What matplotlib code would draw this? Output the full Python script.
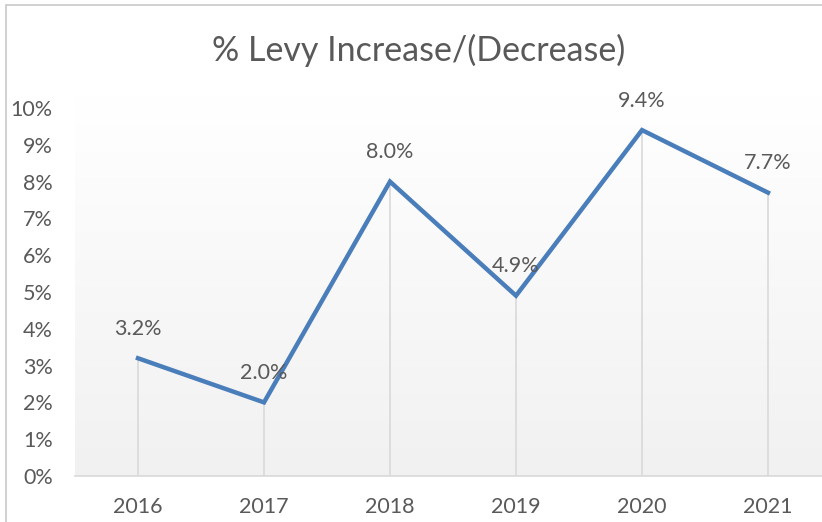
import matplotlib
matplotlib.use("Agg")
import matplotlib.pyplot as plt
import numpy as np
from matplotlib.ticker import FuncFormatter
from matplotlib.patches import Rectangle

years = ["2016", "2017", "2018", "2019", "2020", "2021"]
values = [3.2, 2.0, 8.0, 4.9, 9.4, 7.7]
labels = ["3.2%", "2.0%", "8.0%", "4.9%", "9.4%", "7.7%"]
title = "% Levy Increase/(Decrease)"

W, H = 822, 522
fig = plt.figure(figsize=(W / 100, H / 100), dpi=100)
plt.rcParams['font.family'] = ['Lato', 'DejaVu Sans']

# figure border (chart area)
fig.patches.append(Rectangle((6 / W, -0.1), 1.2, (H - 5) / H + 0.1, transform=fig.transFigure,
                             fill=False, edgecolor="#c8c8c8", linewidth=1.2))

left, right = 75, 831
bottom, top = 476, 108
ax = fig.add_axes([left / W, 1 - bottom / H, (right - left) / W, (bottom - top) / H])

x = np.arange(len(years))
ax.set_xlim(-0.5, len(years) - 0.5)

# gradient background
grad = np.linspace(0.945, 1.0, 256).reshape(-1, 1)
img = np.dstack([grad, grad, grad])
ax.imshow(img, extent=(-0.5, len(years) - 0.5, 0, 10.3), origin="lower",
          aspect="auto", zorder=0, clip_on=False)
ax.set_ylim(0, 10)

for spine in ax.spines.values():
    spine.set_visible(False)
ax.axhline(0, color="#d9d9d9", linewidth=1.2, zorder=2, clip_on=False)

ax.vlines(x, 0, values, color="#d9d9d9", linewidth=1.2, zorder=2)
ax.plot(x, values, color="#4a7ebb", linewidth=3.2, solid_joinstyle="miter", zorder=3)

for xi, v, lab in zip(x, values, labels):
    ax.annotate(lab, (xi, v), xytext=(0, 14), textcoords="offset points",
                ha="center", va="bottom", fontsize=15.5, color="#595959", zorder=4)

ax.set_xticks(x)
ax.set_xticklabels(years)
ax.set_yticks(np.arange(0, 11, 1))
ax.yaxis.set_major_formatter(FuncFormatter(lambda v, p: f"{int(v)}%"))
ax.tick_params(axis="both", length=0, labelsize=15.5, labelcolor="#595959")
ax.tick_params(axis="x", pad=15)
ax.tick_params(axis="y", pad=16)

fig.text(419 / W, 1 - 50 / H, title, ha="center", va="center", fontsize=24.5, color="#595959")

fig.savefig("out.png", dpi=100)
